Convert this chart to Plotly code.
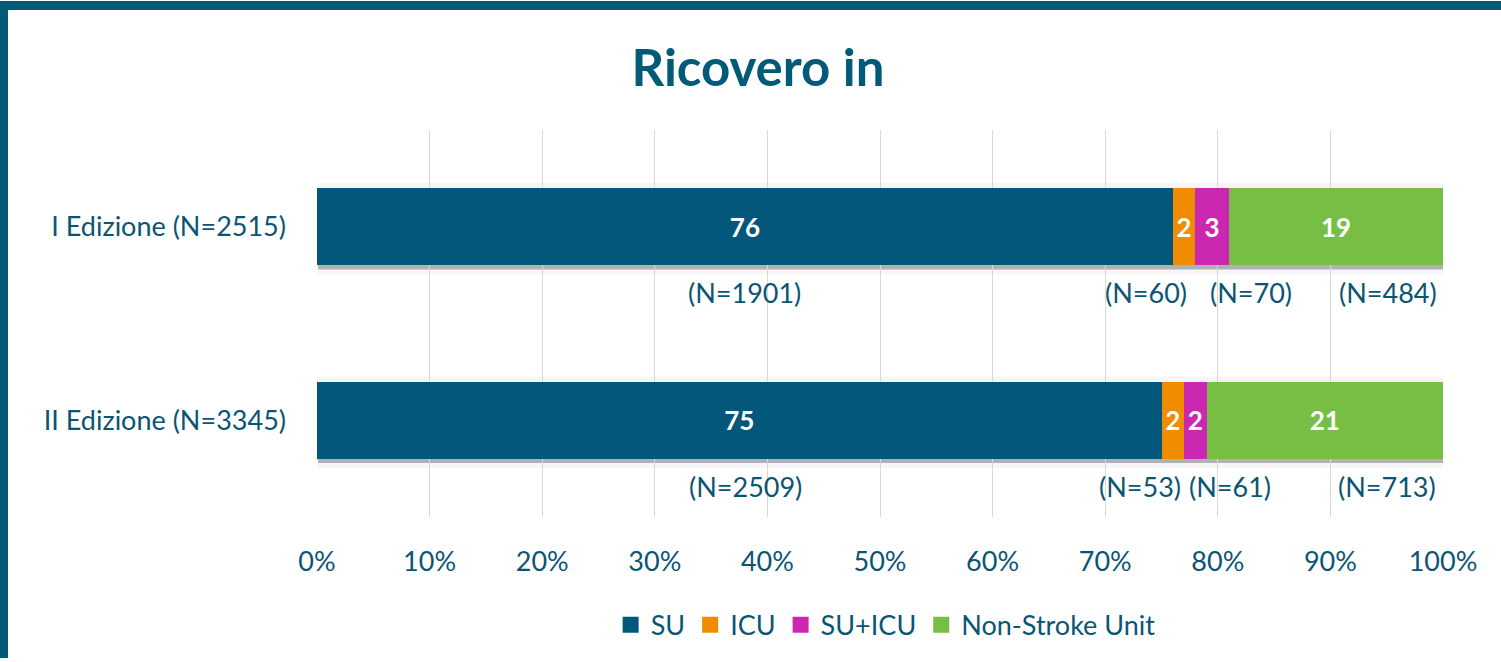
import plotly.graph_objects as go

# ---------------- data ----------------
categories = ["I Edizione (N=2515)", "II Edizione (N=3345)"]
series_names = ["SU", "ICU", "SU+ICU", "Non-Stroke Unit"]
su_pct = [76, 75]
icu_pct = [2, 2]
suicu_pct = [3, 2]
nsu_pct = [19, 21]
su_n = [1901, 2509]
icu_n = [60, 53]
suicu_n = [70, 61]
nsu_n = [484, 713]
x_tick_values = [0, 10, 20, 30, 40, 50, 60, 70, 80, 90, 100]
x_tick_labels = [f"{v}%" for v in x_tick_values]

# ---------------- style ----------------
colors = ["#02577A", "#F08C00", "#CC27B0", "#77BE44"]
text_color = "#0B5574"
border_color = "#005A78"
font_family = "Lato, 'Open Sans', sans-serif"
fs = 27
# horizontal pixel offsets of the "(N=...)" labels, per series, per category
n_label_xshift = [[0, 6], [-38, -33], [39, 35], [52, 62]]

W, H = 1501, 662
ML, MR, MT, MB = 317, 58, 130, 142
PW, PH = W - ML - MR, H - MT - MB

pct_series = [su_pct, icu_pct, suicu_pct, nsu_pct]
n_series = [su_n, icu_n, suicu_n, nsu_n]

fig = go.Figure()
for name, vals, col in zip(series_names, pct_series, colors):
    fig.add_trace(go.Bar(
        y=categories, x=vals, name=name, orientation="h",
        marker=dict(color=col, line=dict(width=0)),
        text=[str(v) for v in vals], textposition="inside",
        insidetextanchor="middle", constraintext="none",
        textfont=dict(color="white", size=26, family=font_family, weight="bold"),
        hoverinfo="skip", showlegend=False, legendgroup=name,
    ))
# legend entries with larger square swatches
for name, col in zip(series_names, colors):
    fig.add_trace(go.Scatter(
        x=[None], y=[None], mode="markers", name=name, legendgroup=name,
        marker=dict(symbol="square", size=16, color=col), hoverinfo="skip",
    ))

# N labels under the bars
annotations = []
for si, (pcts, ns) in enumerate(zip(pct_series, n_series)):
    for ci, cat in enumerate(categories):
        start = sum(pct_series[k][ci] for k in range(si))
        center = start + pcts[ci] / 2
        annotations.append(dict(
            x=center, y=cat, xref="x", yref="y", text=f"(N={ns[ci]})",
            showarrow=False, yshift=-66, xshift=n_label_xshift[si][ci],
            font=dict(size=fs, color=text_color, family=font_family),
        ))

# soft shadow under bars
u = 1.0 / 195
shapes = []
for ci, cat in enumerate(categories):
    total = sum(p[ci] for p in pct_series)
    shapes.append(dict(type="rect", xref="x", yref="y", x0=0, x1=total + 0.5,
                       y0=ci - 0.2 - 5 * u, y1=ci + 0.2 + 9 * u,
                       fillcolor="rgba(0,0,0,0.035)", line=dict(width=0), layer="below"))
    shapes.append(dict(type="rect", xref="x", yref="y", x0=0.1, x1=total + 0.25,
                       y0=ci - 0.2 + 2 * u, y1=ci + 0.2 + 4 * u,
                       fillcolor="rgba(0,0,0,0.28)", line=dict(width=0), layer="below"))

# frame border (top and left)
shapes.append(dict(type="rect", xref="paper", yref="paper",
                   x0=-ML / PW, x1=(W - ML) / PW,
                   y0=1 + (MT - 9) / PH, y1=1 + MT / PH,
                   fillcolor=border_color, line=dict(width=0)))
shapes.append(dict(type="rect", xref="paper", yref="paper",
                   x0=-ML / PW, x1=-(ML - 8) / PW,
                   y0=-MB / PH, y1=1 + MT / PH,
                   fillcolor=border_color, line=dict(width=0)))

fig.update_layout(
    width=W, height=H,
    margin=dict(l=ML, r=MR, t=MT, b=MB),
    paper_bgcolor="white", plot_bgcolor="white",
    barmode="stack", bargap=0.6,
    font=dict(family=font_family, color=text_color, size=fs),
    title=dict(text="<b>Ricovero in</b>", x=0.505, xref="container", xanchor="center",
               y=1 - 68 / H, yref="container", yanchor="middle",
               font=dict(size=51, color=border_color, family=font_family)),
    xaxis=dict(range=[0, 100], tickvals=x_tick_values, ticktext=x_tick_labels,
               showgrid=True, gridcolor="#D9D9D9", gridwidth=1, zeroline=False,
               showline=False, ticks="", ticklabelstandoff=26,
               tickfont=dict(size=fs, color=text_color), fixedrange=True),
    yaxis=dict(categoryorder="array", categoryarray=categories, autorange="reversed",
               showgrid=False, zeroline=False, showline=False, ticks="",
               ticklabelstandoff=30, tickfont=dict(size=fs, color=text_color)),
    legend=dict(orientation="h", x=0.505, xanchor="center", y=-109 / PH, yanchor="middle",
                font=dict(size=fs, color=text_color), traceorder="normal",
                itemclick=False, itemdoubleclick=False, itemsizing="trace"),
    annotations=annotations, shapes=shapes,
    showlegend=True,
)

fig.write_html("out.html", config={"displayModeBar": False},
               post_script="document.body.style.margin='0';")
